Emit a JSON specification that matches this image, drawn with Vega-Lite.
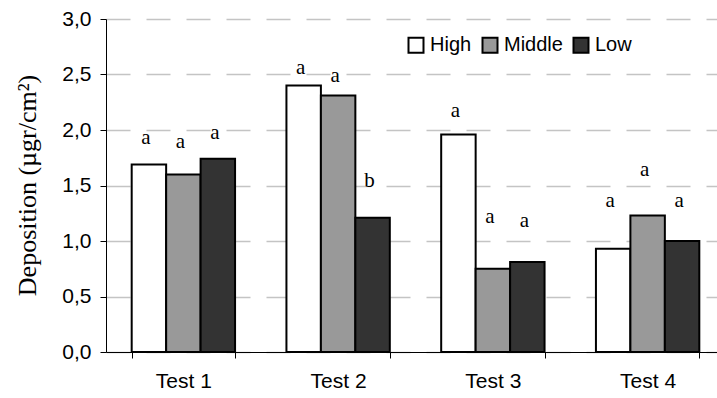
{
  "$schema": "https://vega.github.io/schema/vega-lite/v6.json",
  "width": 619,
  "height": 333,
  "autosize": {"type": "none"},
  "padding": {"left": 106, "top": 19, "right": 0, "bottom": 46},
  "background": "white",
  "config": {
    "view": {"stroke": null},
    "axis": {"labelFont": "Liberation Sans", "labelFontSize": 21, "labelColor": "black", "domainColor": "black", "tickColor": "black"}
  },
  "data": {
    "values": [
      {"test": "Test 1", "level": "High", "value": 1.69, "upper": 1.93, "letter": "a"},
      {"test": "Test 1", "level": "Middle", "value": 1.60, "upper": 1.89, "letter": "a"},
      {"test": "Test 1", "level": "Low", "value": 1.74, "upper": 1.97, "letter": "a"},
      {"test": "Test 2", "level": "High", "value": 2.40, "upper": 2.56, "letter": "a"},
      {"test": "Test 2", "level": "Middle", "value": 2.31, "upper": 2.49, "letter": "a"},
      {"test": "Test 2", "level": "Low", "value": 1.21, "upper": 1.54, "letter": "b"},
      {"test": "Test 3", "level": "High", "value": 1.96, "upper": 2.17, "letter": "a"},
      {"test": "Test 3", "level": "Middle", "value": 0.75, "upper": 1.22, "letter": "a"},
      {"test": "Test 3", "level": "Low", "value": 0.81, "upper": 1.18, "letter": "a"},
      {"test": "Test 4", "level": "High", "value": 0.93, "upper": 1.36, "letter": "a"},
      {"test": "Test 4", "level": "Middle", "value": 1.23, "upper": 1.64, "letter": "a"},
      {"test": "Test 4", "level": "Low", "value": 1.00, "upper": 1.36, "letter": "a"}
    ]
  },
  "encoding": {
    "x": {
      "field": "test", "type": "nominal",
      "scale": {"paddingInner": 0.332, "paddingOuter": 0.166},
      "axis": {"title": null, "labelAngle": 0, "tickBand": "extent", "tickSize": 6, "labelPadding": 12, "grid": false}
    },
    "xOffset": {"field": "level", "type": "nominal", "sort": ["High", "Middle", "Low"], "scale": {"paddingInner": 0, "paddingOuter": 0}}
  },
  "layer": [
    {
      "mark": {"type": "bar", "stroke": "black", "strokeWidth": 2},
      "encoding": {
        "y": {
          "field": "value", "type": "quantitative",
          "scale": {"domain": [0, 3], "nice": false},
          "axis": {
            "values": [0, 0.5, 1, 1.5, 2, 2.5, 3],
            "labelExpr": "replace(format(datum.value, '.1f'), '.', ',')",
            "title": "Deposition (µgr/cm²)",
            "titleFont": "Liberation Serif", "titleFontSize": 26, "titleFontWeight": "normal", "titleColor": "black",
            "titleX": -79, "titleY": 166, "titleBaseline": "middle",
            "grid": true, "gridColor": "#c4c4c4", "gridDash": [24, 16], "gridWidth": 1.5,
            "tickSize": 6, "labelPadding": 9
          }
        },
        "fill": {
          "field": "level", "type": "nominal", "sort": ["High", "Middle", "Low"],
          "scale": {"domain": ["High", "Middle", "Low"], "range": ["#ffffff", "#999999", "#333333"]},
          "legend": {
            "title": null, "orient": "none", "legendX": 300, "legendY": 16, "direction": "horizontal",
            "symbolType": "square", "symbolSize": 225, "symbolStrokeColor": "black", "symbolStrokeWidth": 2,
            "labelFont": "Liberation Sans", "labelFontSize": 20, "labelColor": "black", "labelOffset": 4, "columnPadding": 6
          }
        }
      }
    },
    {
      "mark": {"type": "text", "font": "Liberation Serif", "fontSize": 21, "baseline": "middle", "color": "black", "dx": -3},
      "encoding": {
        "y": {"field": "upper", "type": "quantitative"},
        "text": {"field": "letter"}
      }
    }
  ]
}
